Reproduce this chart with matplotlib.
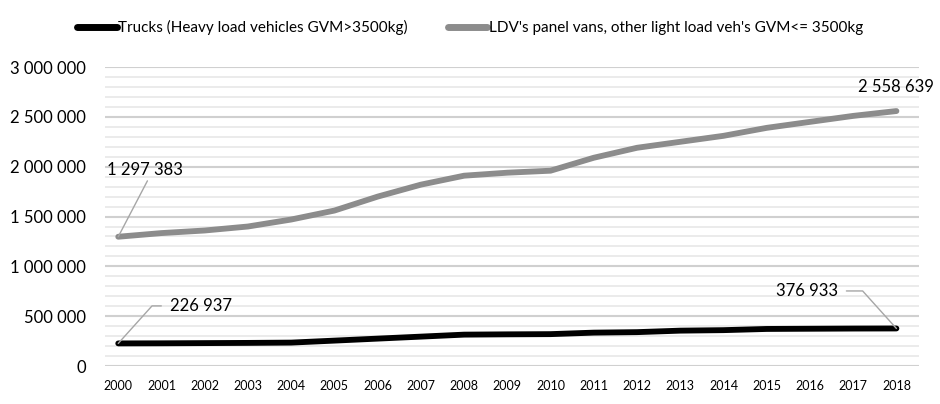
import matplotlib.pyplot as plt
from matplotlib.ticker import MultipleLocator, FuncFormatter

plt.rcParams['font.family'] = ['Lato', 'DejaVu Sans']

# data
years = list(range(2000, 2019))
trucks = [226937, 228000, 230000, 232000, 235000, 255000, 275000, 295000, 315000, 318000,
          320000, 335000, 340000, 355000, 360000, 372000, 374000, 376000, 376933]
ldv = [1297383, 1334000, 1360000, 1400000, 1470000, 1560000, 1700000, 1820000, 1910000, 1940000,
       1960000, 2090000, 2190000, 2250000, 2310000, 2390000, 2450000, 2510000, 2558639]
labels = ["Trucks (Heavy load vehicles GVM>3500kg)",
          "LDV's panel vans, other light load veh's GVM<= 3500kg"]


def fmt(v):
    return f"{int(v):,}".replace(",", " ")


fig = plt.figure(figsize=(9.4, 4.04), dpi=100)
ax = fig.add_axes([0.112, 0.094, 0.866, 0.74])

ax.plot(years, trucks, color='black', lw=4.2, solid_capstyle='round', label=labels[0], zorder=3)
ax.plot(years, ldv, color='#8c8c8c', lw=4.2, solid_capstyle='round', label=labels[1], zorder=3)

ax.set_xlim(1999.7, 2018.53)
ax.set_ylim(0, 3000000)
ax.yaxis.set_major_locator(MultipleLocator(500000))
ax.yaxis.set_minor_locator(MultipleLocator(100000))
ax.yaxis.set_major_formatter(FuncFormatter(lambda v, p: fmt(v)))
ax.set_xticks(years)
ax.set_xticklabels([str(y) for y in years], fontsize=9)
ax.tick_params(axis='y', labelsize=12, length=0, pad=14)
ax.tick_params(axis='x', length=0, pad=10)
ax.tick_params(axis='y', which='minor', length=0)
ax.grid(axis='y', which='major', color='#d0d0d0', lw=1.5)
ax.grid(axis='y', which='minor', color='#e8e8e8', lw=1.2)
ax.set_axisbelow(True)
for s in ax.spines.values():
    s.set_visible(False)

lc = '#a6a6a6'
ax.annotate(fmt(ldv[0]), (years[0], ldv[0]), xytext=(-8, 48), textcoords='offset points',
            fontsize=12, ha='left', va='center',
            arrowprops=dict(arrowstyle='-', color=lc, lw=1, shrinkA=0, shrinkB=0,
                            relpos=(0.55, 0.0)))
ax.annotate(fmt(trucks[0]), (years[0], trucks[0]), xytext=(37, 27), textcoords='offset points',
            fontsize=12, ha='left', va='center',
            arrowprops=dict(arrowstyle='-', color=lc, lw=1, shrinkA=4, shrinkB=0,
                            connectionstyle='angle,angleA=0,angleB=48,rad=0', relpos=(0, 0.5)))
ax.annotate(fmt(trucks[-1]), (years[-1], trucks[-1]), xytext=(-42, 27), textcoords='offset points',
            fontsize=12, ha='right', va='center',
            arrowprops=dict(arrowstyle='-', color=lc, lw=1, shrinkA=4, shrinkB=0,
                            connectionstyle='angle,angleA=0,angleB=132,rad=0', relpos=(1, 0.5)))
ax.annotate(fmt(ldv[-1]), (years[-1], ldv[-1]), xytext=(0, 17), textcoords='offset points',
            fontsize=12, ha='center', va='center')

leg = fig.legend(loc='upper center', bbox_to_anchor=(0.5, 0.985), ncol=2, frameon=False,
                 fontsize=11, handlelength=2.6, columnspacing=2.6, handletextpad=0.1)
for h in leg.get_lines():
    h.set_linewidth(5)

fig.savefig('out.png', dpi=100)
